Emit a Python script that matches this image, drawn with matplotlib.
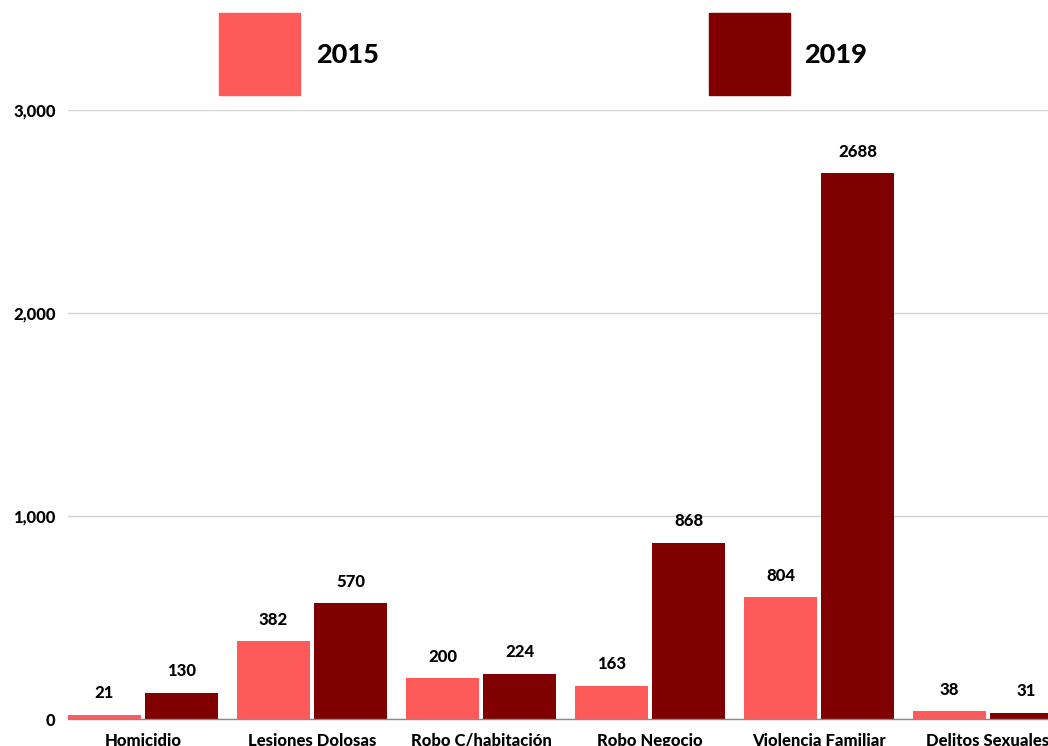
import matplotlib.pyplot as plt
import matplotlib as mpl
import numpy as np

mpl.rcParams["font.family"] = ["Lato", "DejaVu Sans"]

# Data
categories = ["Homicidio", "Lesiones Dolosas", "Robo C/habitación",
              "Robo Negocio", "Violencia Familiar", "Delitos Sexuales"]
labels_2015 = [21, 382, 200, 163, 804, 38]
heights_2015 = [21, 382, 200, 163, 600, 38]   # bar drawn shorter than its label in the source
values_2019 = [130, 570, 224, 868, 2688, 31]
yticks = [0, 1000, 2000, 3000]

c2015 = "#FF5A5A"
c2019 = "#800000"

fig = plt.figure(figsize=(10.48, 7.46), dpi=100)
ax = fig.add_axes([68 / 1048, 27 / 746, 1014 / 1048, 609 / 746])

x = np.arange(len(categories))
w = 0.432
off = 0.228
b1 = ax.bar(x - off, heights_2015, width=w, color=c2015, zorder=3)
b2 = ax.bar(x + off, values_2019, width=w, color=c2019, zorder=3)

# Value labels
for rects, labs in [(b1, labels_2015), (b2, values_2019)]:
    for rect, lab in zip(rects, labs):
        ax.annotate(str(lab), (rect.get_x() + rect.get_width() / 2, rect.get_height()),
                    xytext=(0, 15.5), textcoords="offset points",
                    ha="center", va="center", fontsize=12, fontweight="black")

ax.set_xlim(-0.444, 5.556)
ax.set_ylim(0, 3000)
ax.set_yticks(yticks)
ax.set_yticklabels([f"{v:,}" for v in yticks], fontsize=12, fontweight="black")
ax.set_xticks(x)
ax.set_xticklabels(categories, fontsize=12, fontweight="black")
ax.tick_params(axis="both", length=0)
ax.tick_params(axis="y", pad=9)
ax.tick_params(axis="x", pad=10)

ax.grid(axis="y", color="#d4d4d4", linewidth=1, zorder=0)
for s in ["top", "right", "left"]:
    ax.spines[s].set_visible(False)
ax.spines["bottom"].set_color("#8a8a8a")
ax.spines["bottom"].set_linewidth(1)
ax.spines["bottom"].set_zorder(4)

# Legend (big squares on top)
fig.patches.append(mpl.patches.Rectangle((219 / 1048, 651 / 746), 81 / 1048, 82 / 746,
                                         transform=fig.transFigure, color=c2015))
fig.patches.append(mpl.patches.Rectangle((709 / 1048, 651 / 746), 81 / 1048, 82 / 746,
                                         transform=fig.transFigure, color=c2019))
fig.text(316 / 1048, 691 / 746, "2015", fontsize=19.5, fontweight="black", va="center")
fig.text(804 / 1048, 691 / 746, "2019", fontsize=19.5, fontweight="black", va="center")

fig.savefig("out.png", dpi=100)
